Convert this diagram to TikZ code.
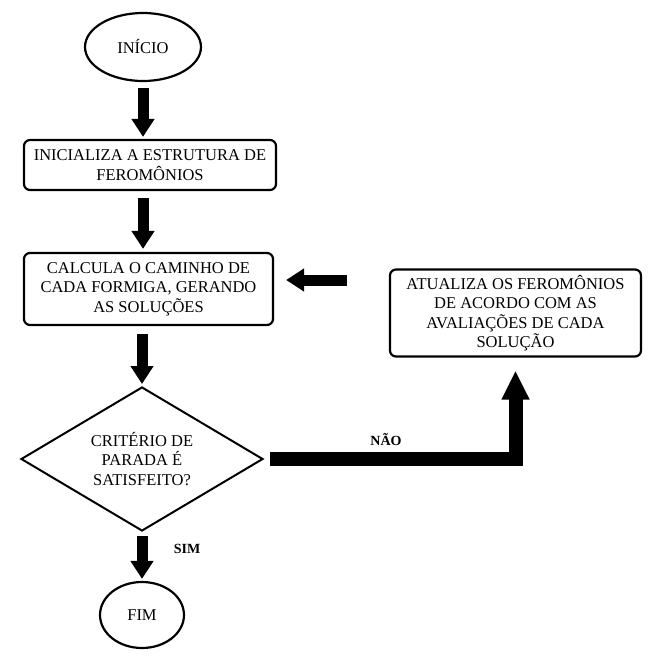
\documentclass[tikz,border=0pt]{standalone}
\usepackage{fontspec}
\setmainfont{Liberation Serif}
\usetikzlibrary{shapes.geometric,arrows.meta}
\begin{document}
\begin{tikzpicture}[x=1pt,y=-1pt,
  every node/.style={font=\fontsize{16.5}{19.5}\selectfont, align=center, inner sep=0pt},
  box/.style={draw, line width=2.2pt, rounded corners=6pt},
  oval/.style={draw, ellipse, line width=2.2pt},
  decision/.style={draw, diamond, line width=2pt, shape aspect=1.68},
  fat/.style={line width=11pt, -{Triangle[width=22pt,length=18pt]}},
  lbl/.style={font=\fontsize{14}{16}\selectfont\bfseries}
]
\useasboundingbox (0,0) rectangle (648,658);
\node[oval, minimum width=116pt, minimum height=68pt] (ini) at (143,47) {INÍCIO};
\node[box, minimum width=252pt, minimum height=50pt] (b1) at (150,165) {INICIALIZA A ESTRUTURA DE\\FEROMÔNIOS};
\node[box, minimum width=249pt, minimum height=72pt] (b2) at (148.5,289) {CALCULA O CAMINHO DE\\CADA FORMIGA, GERANDO\\AS SOLUÇÕES};
\node[box, minimum width=251pt, minimum height=87pt] (b3) at (515.5,313) {ATUALIZA OS FEROMÔNIOS\\DE ACORDO COM AS\\AVALIAÇÕES DE CADA\\SOLUÇÃO};
\node[decision, minimum width=242pt, minimum height=144pt] (dec) at (142,459) {CRITÉRIO DE\\PARADA É\\SATISFEITO?};
\node[oval, minimum width=84pt, minimum height=66pt] (fim) at (142,615) {FIM};

\draw[fat] ([yshift=-6pt]ini.south) -- ([yshift=2pt]b1.north -| ini.south);
\draw[fat] ([yshift=-7pt]b1.south -| ini.south) -- ([yshift=3pt]b2.north -| ini.south);
\draw[fat] ([yshift=-8pt]b2.south -| dec.north) -- ([yshift=2pt]dec.north);
\draw[fat] ([yshift=-4pt]dec.south) -- ([yshift=2pt]fim.north);
\draw[fat] ([xshift=-42pt]b3.west |- 0,280) -- ([xshift=12pt]b2.east |- 0,280);
\draw[line width=14pt, -{Triangle[width=26pt,length=29pt]}] ([xshift=6pt]dec.east) -| ([yshift=-13pt]b3.south);

\node[lbl] (no) at (386,440) {NÃO};
\node[lbl] (yes) at (187,549) {SIM};
\end{tikzpicture}
\end{document}
